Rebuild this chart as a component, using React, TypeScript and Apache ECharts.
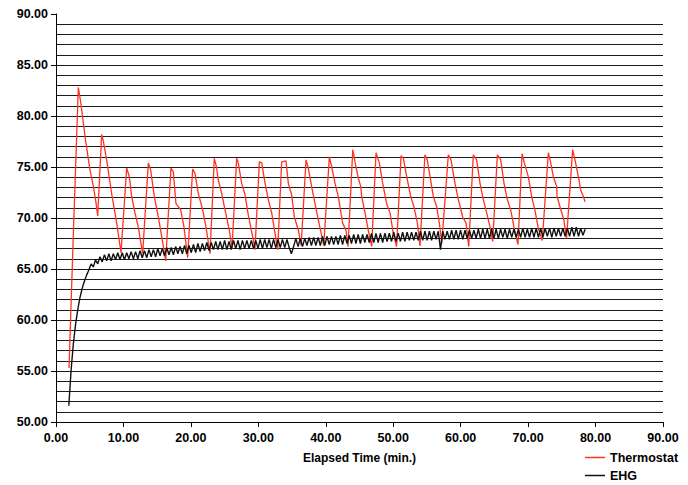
import React, { useEffect, useRef } from "react";
import * as echarts from "echarts";

// Thermostat series: time (min) and temperature
const THERMO_T = [
  1.93, 2.6, 3.31, 3.7, 4.3, 5.04, 5.54, 5.93, 6.18,
  6.77, 7.0, 7.51, 8.25, 9.0, 9.64,
  10.48, 10.87, 11.22, 11.71, 12.2, 12.85,
  13.69, 14.04, 14.58, 15.17, 15.67, 16.26,
  17.05, 17.4, 17.79, 18.49, 18.98, 19.52,
  20.26, 20.6, 21.1, 21.75, 22.24, 22.84,
  23.47, 23.8, 24.07, 24.57, 25.06, 25.7, 26.1,
  26.79, 27.03, 27.53, 28.02, 28.51, 28.76, 29.26, 29.5,
  30.15, 30.5, 31.0, 31.48, 31.98, 32.47, 32.87,
  33.46, 34.1, 34.45, 34.95, 35.34, 35.93, 36.35,
  37.07, 37.41, 37.9, 38.4, 38.9, 39.7,
  40.53, 40.88, 41.37, 41.86, 42.5, 43.0, 43.3,
  44.0, 44.48, 44.83, 45.18, 45.33, 45.82, 46.3, 46.81,
  47.45, 47.94, 48.44, 49.03, 49.53, 50.0, 50.5,
  51.16, 51.5, 52.0, 52.6, 53.08, 53.58, 53.97,
  54.7, 55.05, 55.46, 55.95, 56.45, 56.84, 57.2,
  58.17, 58.57, 59.16, 59.66, 60.3, 60.8, 61.2,
  61.87, 62.37, 62.87, 63.36, 63.86, 64.35, 64.75,
  65.44, 65.94, 66.43, 66.92, 67.42, 67.9, 68.5,
  69.1, 69.44, 70.03, 70.53, 71.0, 71.5, 72.1,
  73.0, 73.35, 73.74, 74.24, 74.3, 74.73, 75.3, 75.7,
  76.6, 76.95, 77.45, 77.8, 78.2, 78.44,
];
const THERMO_V = [
  55.3, 69.0, 82.8, 81.2, 78.0, 74.7, 73.1, 71.5, 70.2,
  78.2, 77.6, 75.7, 72.4, 69.5, 66.6,
  74.9, 74.05, 72.1, 70.5, 69.1, 66.5,
  75.4, 74.7, 72.1, 70.1, 68.2, 65.8,
  74.9, 74.5, 71.4, 70.8, 69.1, 66.1,
  74.8, 74.4, 72.4, 70.8, 69.1, 66.5,
  75.85, 75.0, 73.7, 72.4, 70.8, 68.8, 67.0,
  75.85, 75.4, 73.4, 72.3, 70.3, 69.5, 67.8, 66.9,
  75.5, 75.4, 73.4, 71.8, 70.5, 68.5, 66.9,
  75.5, 75.6, 73.4, 72.25, 70.1, 68.8, 67.3,
  75.7, 74.9, 73.1, 71.4, 69.8, 67.3,
  76.0, 75.0, 73.4, 72.1, 69.5, 68.8, 67.2,
  76.7, 75.0, 73.9, 73.1, 72.1, 70.5, 68.8, 67.2,
  76.4, 75.4, 73.4, 71.4, 70.5, 68.5, 67.2,
  76.1, 75.85, 74.05, 72.1, 71.1, 69.5, 67.25,
  76.2, 75.7, 74.05, 72.1, 71.1, 69.5, 67.5,
  76.2, 75.7, 73.4, 71.8, 70.1, 69.5, 67.2,
  76.2, 75.7, 73.4, 71.8, 70.5, 69.1, 67.7,
  76.2, 75.7, 73.4, 71.8, 70.8, 69.1, 67.4,
  76.3, 75.4, 74.05, 72.1, 70.8, 69.0, 67.8,
  76.4, 75.4, 74.05, 73.1, 72.1, 71.1, 69.8, 68.0,
  76.7, 75.7, 74.05, 72.75, 72.1, 71.6,
];

// EHG series: samples every EHG_DT minutes starting at EHG_T0
const EHG_T0 = 1.9;
const EHG_DT = 0.33;
const EHG_V = [
  51.6, 55.0, 57.6, 59.5, 61.0, 62.2, 63.1, 63.8, 64.4, 64.9,
  65.5, 65.2, 65.9, 65.5, 66.2, 65.7, 66.4, 65.8, 66.5, 65.8,
  66.5, 65.9, 66.6, 65.9, 66.6, 65.9, 66.6, 66.0, 66.7, 66.0,
  66.7, 66.0, 66.8, 66.1, 66.8, 66.1, 66.9, 66.2, 66.9, 66.2,
  67.0, 66.3, 67.0, 66.3, 67.1, 66.4, 67.1, 66.4, 67.2, 66.5,
  67.2, 66.5, 67.3, 66.5, 67.3, 66.6, 67.4, 66.6, 67.5, 66.7,
  67.5, 66.8, 67.6, 66.8, 67.6, 66.9, 67.7, 66.9, 67.7, 66.9,
  67.8, 66.9, 67.7, 66.9, 67.8, 67.0, 67.8, 66.9, 67.8, 67.0,
  67.8, 67.0, 67.8, 67.0, 67.8, 67.0, 67.9, 67.0, 67.9, 67.1,
  67.9, 67.0, 67.9, 67.1, 67.9, 67.1, 67.9, 67.1, 67.9, 67.1,
  66.5, 67.2, 68.0, 67.2, 68.0, 67.2, 68.0, 67.3, 68.1, 67.3,
  68.1, 67.3, 68.1, 67.3, 68.2, 67.3, 68.2, 67.4, 68.2, 67.4,
  68.2, 67.4, 68.3, 67.4, 68.3, 67.5, 68.3, 67.5, 68.4, 67.5,
  68.4, 67.5, 68.4, 67.6, 68.4, 67.6, 68.5, 67.6, 68.5, 67.6,
  68.5, 67.6, 68.5, 67.7, 68.5, 67.7, 68.6, 67.7, 68.5, 67.7,
  68.6, 67.7, 68.6, 67.8, 68.6, 67.8, 68.6, 67.8, 68.7, 67.8,
  68.7, 67.8, 68.7, 67.8, 68.7, 67.9, 68.7, 66.9, 68.7, 67.9,
  68.7, 67.9, 68.8, 67.9, 68.8, 67.9, 68.8, 67.9, 68.8, 68.0,
  68.8, 68.0, 68.8, 68.0, 68.9, 68.0, 68.9, 68.0, 68.9, 68.0,
  68.9, 68.0, 68.9, 68.0, 68.9, 68.1, 68.9, 68.0, 68.9, 68.1,
  68.9, 68.1, 68.9, 68.1, 69.0, 68.1, 68.9, 68.1, 69.0, 68.1,
  69.0, 68.1, 69.0, 68.1, 69.0, 68.2, 69.0, 68.1, 69.0, 68.2,
  69.0, 68.2, 69.0, 68.2, 69.0, 68.2, 69.1, 68.2, 69.1, 68.2,
  69.0, 68.3, 68.9,
];

const SERIES_NAMES = ["Thermostat", "EHG"];
const X_TITLE = "Elapsed Time (min.)";

export default function App() {
  const ref = useRef<HTMLDivElement>(null);

  useEffect(() => {
    if (!ref.current) return;
    const chart = echarts.init(ref.current, null, { renderer: "svg" });
    const thermo = THERMO_T.map((t, i) => [t, THERMO_V[i]]);
    const ehg = EHG_V.map((v, i) => [+(EHG_T0 + i * EHG_DT).toFixed(2), v]);
    const font = "'Liberation Sans', Arial, Helvetica, sans-serif";

    chart.setOption({
      animation: false,
      backgroundColor: "#ffffff",
      grid: { left: 56, right: 25, top: 14, bottom: 63, containLabel: false },
      legend: {
        orient: "vertical",
        left: 585,
        top: 451,
        itemWidth: 20,
        itemHeight: 1.5,
        itemGap: 5,
        icon: "rect",
        padding: 0,
        textStyle: { fontFamily: font, fontWeight: "bold", fontSize: 12.5, color: "#000" },
        data: [
          { name: SERIES_NAMES[0], itemStyle: { color: "#ff3322" } },
          { name: SERIES_NAMES[1], itemStyle: { color: "#111" } },
        ],
      },
      xAxis: {
        type: "value",
        min: 0,
        max: 90,
        interval: 10,
        name: X_TITLE,
        nameLocation: "middle",
        nameGap: 30,
        nameTextStyle: { fontFamily: font, fontWeight: "bold", fontSize: 12, color: "#000" },
        axisLine: { show: true, lineStyle: { color: "#000", width: 1 } },
        axisTick: { show: true, length: 5, lineStyle: { color: "#000" } },
        axisLabel: {
          margin: 9,
          fontFamily: font,
          fontWeight: "bold",
          fontSize: 12.5,
          color: "#000",
          formatter: (v: number) => v.toFixed(2),
        },
        splitLine: { show: false },
      },
      yAxis: {
        type: "value",
        min: 50,
        max: 90,
        interval: 5,
        axisLine: { show: true, onZero: false, lineStyle: { color: "#000", width: 1 } },
        axisTick: { show: true, length: 5, lineStyle: { color: "#000" } },
        axisLabel: {
          margin: 8,
          fontFamily: font,
          fontWeight: "bold",
          fontSize: 12.5,
          color: "#000",
          formatter: (v: number) => v.toFixed(2),
        },
        splitLine: {
          show: true,
          showMaxLine: false,
          showMinLine: false,
          lineStyle: { color: "#1a1a1a", width: 1 },
        },
        minorTick: { show: false, splitNumber: 5 },
        minorSplitLine: { show: true, lineStyle: { color: "#1a1a1a", width: 1 } },
      },
      series: [
        {
          name: SERIES_NAMES[0],
          type: "line",
          data: thermo,
          showSymbol: false,
          symbol: "none",
          lineStyle: { color: "#ff3322", width: 1.3 },
          itemStyle: { color: "#ff3322" },
          z: 2,
        },
        {
          name: SERIES_NAMES[1],
          type: "line",
          data: ehg,
          showSymbol: false,
          symbol: "none",
          lineStyle: { color: "#111", width: 1.4 },
          itemStyle: { color: "#111" },
          z: 3,
        },
      ],
    });
    return () => chart.dispose();
  }, []);

  return (
    <div
      ref={ref}
      style={{ position: "fixed", left: 0, top: 0, width: 688, height: 485, background: "#fff" }}
    />
  );
}
